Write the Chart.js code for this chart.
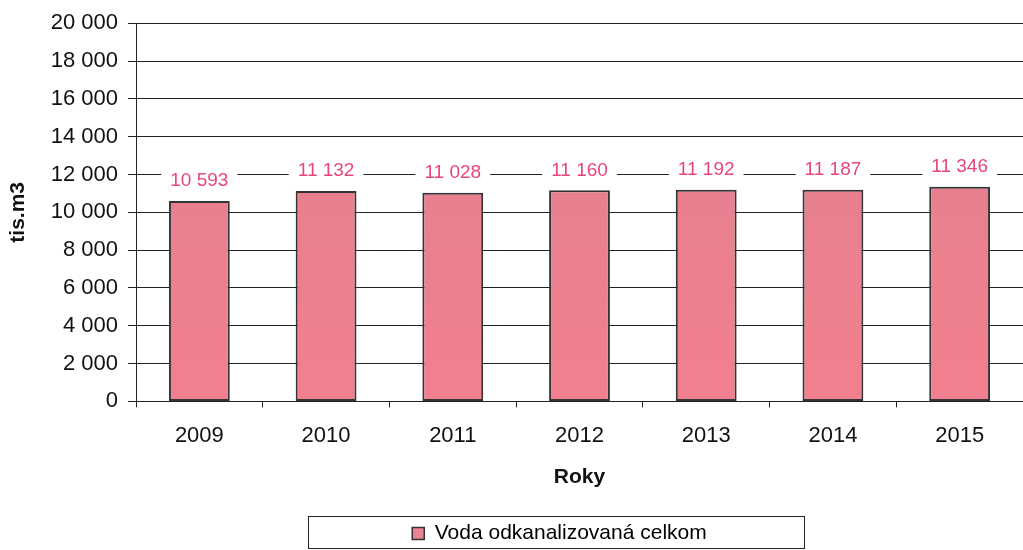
<!DOCTYPE html>
<html><head><meta charset="utf-8">
<script src="https://cdn.jsdelivr.net/npm/chart.js@4/dist/chart.umd.min.js"></script>
<style>html,body{margin:0;padding:0;background:#fff}#w{width:1023px;height:550px}</style>
</head><body><div id="w"><canvas id="c" width="1023" height="550"></canvas></div>
<script>
const categories = ['2009','2010','2011','2012','2013','2014','2015'];
const values = [10593, 11132, 11028, 11160, 11192, 11187, 11346];
const seriesName = 'Voda odkanalizovaná celkom';
const yTitle = 'tis.m3';
const xTitle = 'Roky';

const fmt = v => String(v).replace(/\B(?=(\d{3})+(?!\d))/g, ' ');
const FONT = "'Liberation Sans', Arial, sans-serif";

const labelPlugin = {
  id: 'labels',
  afterDatasetsDraw(chart) {
    const ctx = chart.ctx;
    const meta = chart.getDatasetMeta(0);
    ctx.save();
    ctx.font = '19px ' + FONT;
    ctx.textAlign = 'center';
    ctx.textBaseline = 'middle';
    meta.data.forEach((bar, i) => {
      const t = fmt(chart.data.datasets[0].data[i]);
      const w = ctx.measureText(t).width;
      const y = bar.y - 20;
      ctx.fillStyle = '#fff';
      ctx.fillRect(bar.x - w / 2 - 9, y - 11, w + 18, 22);
      ctx.fillStyle = '#e8457c';
      ctx.fillText(t, bar.x, y);
    });
    ctx.restore();
  }
};

const legendBox = {
  id: 'legendBox',
  afterLayout(chart) {
    const l = chart.legend;
    if (l) { l.left += 48; l.right += 48; l.top += 6; l.bottom += 6; }
  },
  afterDraw(chart) {
    const ctx = chart.ctx;
    ctx.save();
    ctx.strokeStyle = '#222';
    ctx.lineWidth = 1;
    ctx.strokeRect(308.5, 516.5, 496, 32);
    ctx.restore();
  }
};

new Chart(document.getElementById('c'), {
  type: 'bar',
  data: {
    labels: categories,
    datasets: [{
      label: seriesName,
      data: values,
      backgroundColor: (c) => {
        const ch = c.chart;
        const a = ch.chartArea;
        if (!a) return '#e98090';
        const g = ch.ctx.createLinearGradient(0, a.top, 0, a.bottom);
        g.addColorStop(0, '#d6788a');
        g.addColorStop(0.5, '#e9808f');
        g.addColorStop(1, '#f27f8f');
        return g;
      },
      borderColor: '#333',
      borderWidth: 2,
      borderSkipped: false,
      barPercentage: 0.48,
      categoryPercentage: 1.0
    }]
  },
  options: {
    responsive: false,
    animation: false,
    layout: { padding: { left: 0, right: 0, top: 12, bottom: 2 } },
    plugins: {
      tooltip: { enabled: false },
      legend: {
        position: 'bottom',
        labels: {
          font: { family: FONT, size: 21 },
          color: '#111',
          boxWidth: 12,
          boxHeight: 12,
          padding: 6,
          generateLabels: (chart) => [{
            text: seriesName,
            fillStyle: '#ec8296',
            strokeStyle: '#333',
            lineWidth: 1.5,
            datasetIndex: 0
          }]
        }
      }
    },
    scales: {
      y: {
        min: 0, max: 20000,
        afterFit: s => { s.width = 136; },
        ticks: {
          stepSize: 2000,
          callback: v => fmt(v),
          font: { family: FONT, size: 22 },
          color: '#111',
          padding: 10
        },
        grid: { color: '#222', lineWidth: 1, tickLength: 8, drawTicks: true },
        border: { color: '#222', width: 1 },
        title: { display: true, text: yTitle, font: { family: FONT, size: 21, weight: 'bold' }, color: '#111', padding: { top: 6, bottom: 0 } }
      },
      x: {
        offset: true,
        ticks: { font: { family: FONT, size: 22 }, color: '#111', padding: 15 },
        grid: { offset: true, drawOnChartArea: false, color: '#222', tickLength: 6 },
        border: { color: '#222', width: 1 },
        title: { display: true, text: xTitle, font: { family: FONT, size: 21, weight: 'bold' }, color: '#111', padding: { top: 1, bottom: 21 } }
      }
    }
  },
  plugins: [labelPlugin, legendBox]
});
</script>
</body></html>
